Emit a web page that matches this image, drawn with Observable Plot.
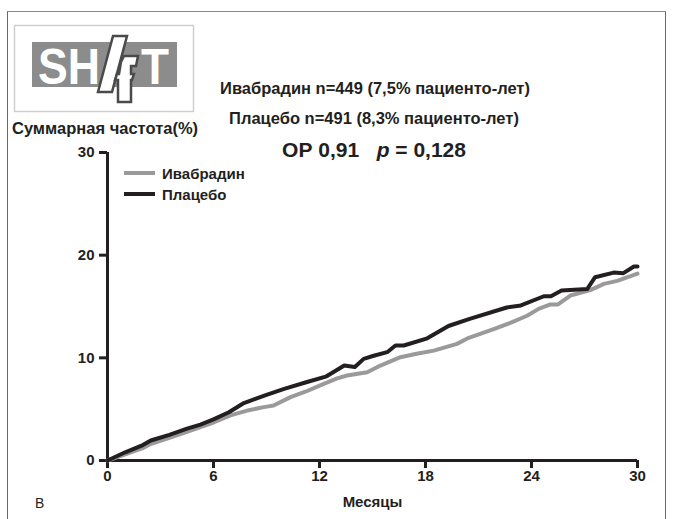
<!DOCTYPE html>
<html>
<head>
<meta charset="utf-8">
<script src="https://cdn.jsdelivr.net/npm/d3@7"></script>
<script src="https://cdn.jsdelivr.net/npm/@observablehq/plot@0.6"></script>
<style>
  html, body { margin: 0; padding: 0; background: #fff; }
  #wrap { position: relative; width: 674px; height: 519px; overflow: hidden; font-family: "Liberation Sans", Arial, sans-serif; color: #231f20; }
  #chart { position: absolute; left: 0; top: 0; }
  .ov { position: absolute; white-space: nowrap; font-weight: bold; }
  .ctr { transform: translate(-50%, -50%); }
  #frame { position: absolute; left: 7px; top: 11px; width: 657px; height: 530px; border: 1.5px solid #6a6a6a; border-top-color: #8a8a8a; }
  .lg { position: absolute; height: 4px; width: 31px; }
</style>
</head>
<body>
<div id="wrap">
  <div id="frame"></div>
  <div id="chart"></div>
  <svg id="logo" style="position:absolute;left:0;top:0" width="200" height="120">
    <rect x="14.5" y="25.5" width="179" height="86" fill="none" stroke="#cfcfcf" stroke-width="1.5"/>
    <rect x="32" y="42" width="145" height="45" fill="#8c8c8c"/>
    <text x="38" y="84" font-family="Liberation Sans, Arial" font-weight="bold" font-size="50" fill="#fff" textLength="62" lengthAdjust="spacingAndGlyphs">SH</text>
    <text x="141" y="84" font-family="Liberation Sans, Arial" font-weight="bold" font-size="50" fill="#fff" textLength="28" lengthAdjust="spacingAndGlyphs">T</text>
    <polygon points="113,36 127,36 112,92 98,92" fill="#fff" stroke="#4a4a4a" stroke-width="2.5"/>
    <path d="M124,56 L138,56 L136,66 L131,66 L131,74 L134,74 L132,80 L131,80 L131,102 L118,102 L118,80 L115,80 L117,74 L119,74 L121,62 Z" fill="#fff" stroke="#4a4a4a" stroke-width="2.5"/>
  </svg>
  <div class="ov" style="left:12px;top:119px;font-size:16.5px;">Суммарная частота(%)</div>
  <div class="ov ctr" style="left:375px;top:88px;font-size:16.5px;">Ивабрадин n=449 (7,5% пациенто-лет)</div>
  <div class="ov ctr" style="left:374px;top:118px;font-size:16.5px;">Плацебо n=491 (8,3% пациенто-лет)</div>
  <div class="ov ctr" style="left:374px;top:150px;font-size:21px;">ОР 0,91&nbsp;&nbsp;&nbsp;<i>p</i> = 0,128</div>
  <div class="lg" style="left:124px;top:171px;background:#9a9a9a;"></div>
  <div class="ov" style="left:162px;top:165px;font-size:15px;">Ивабрадин</div>
  <div class="lg" style="left:124px;top:192px;background:#231f20;"></div>
  <div class="ov" style="left:162px;top:186px;font-size:15px;">Плацебо</div>
  <div class="ov" style="left:35px;top:495px;font-size:14px;font-weight:normal;">B</div>
</div>
<script>
// Months axis ticks and cumulative-incidence axis ticks
const xTicks = [0, 6, 12, 18, 24, 30];
const yTicks = [0, 10, 20, 30];

// Ivabradine (gray) — months
const ivaMonths = [0, 1, 2, 2.43, 3.5, 4.5, 5.26, 6, 6.96, 8, 8.85, 9.4, 10.36, 11.2, 12.24, 13.0, 13.56, 14.7, 15.45, 16.58, 17.5, 18.47, 19.78, 20.45, 21.86, 22.8, 23.75, 24.4, 25.07, 25.5, 26.2, 27.33, 28.1, 28.85, 30];
// Ivabradine cumulative incidence, %
const ivaValues = [0, 0.6, 1.2, 1.6, 2.2, 2.8, 3.25, 3.7, 4.4, 4.9, 5.2, 5.35, 6.17, 6.7, 7.47, 8.0, 8.28, 8.6, 9.25, 10.06, 10.4, 10.7, 11.36, 11.95, 12.8, 13.4, 14.1, 14.77, 15.2, 15.2, 16.07, 16.6, 17.2, 17.5, 18.2];

// Placebo (black) — months
const plaMonths = [0, 1, 2, 2.45, 3.5, 4.5, 5.26, 6, 6.87, 7.72, 9, 10, 11.2, 12.4, 13.4, 14.0, 14.5, 15.07, 15.83, 16.3, 16.77, 18.1, 19.3, 20.5, 22.6, 23.4, 24.7, 25.1, 25.7, 27.15, 27.6, 28.65, 29.2, 29.8, 30];
// Placebo cumulative incidence, %
const plaValues = [0, 0.8, 1.5, 1.95, 2.5, 3.1, 3.5, 4.0, 4.7, 5.6, 6.4, 6.98, 7.6, 8.2, 9.25, 9.1, 9.9, 10.2, 10.55, 11.2, 11.2, 11.9, 13.1, 13.8, 14.9, 15.1, 16.0, 16.0, 16.55, 16.7, 17.85, 18.3, 18.25, 18.9, 18.9];

const iva = ivaMonths.map((m, i) => ({m, v: ivaValues[i]}));
const pla = plaMonths.map((m, i) => ({m, v: plaValues[i]}));

const chart = Plot.plot({
  width: 674,
  height: 519,
  marginLeft: 107,
  marginRight: 37,
  marginTop: 152,
  marginBottom: 59,
  style: {fontFamily: "Liberation Sans, Arial, sans-serif", fontSize: "15px", fontWeight: "bold", color: "#231f20", background: "transparent"},
  x: {domain: [0, 30]},
  y: {domain: [0, 30]},
  marks: [
    Plot.axisX({ticks: xTicks, tickSize: 8, tickPadding: 2, strokeWidth: 3, stroke: "#231f20", label: "Месяцы", labelAnchor: "center", labelArrow: "none", labelOffset: 46}),
    Plot.axisY({ticks: yTicks, tickSize: 8, tickPadding: 5, strokeWidth: 3, stroke: "#231f20", label: null}),
    Plot.ruleX([0], {stroke: "#231f20", strokeWidth: 3}),
    Plot.ruleY([0], {stroke: "#231f20", strokeWidth: 3}),
    Plot.line(iva, {x: "m", y: "v", stroke: "#9a9a9a", strokeWidth: 4}),
    Plot.line(pla, {x: "m", y: "v", stroke: "#231f20", strokeWidth: 4})
  ]
});
document.getElementById("chart").appendChild(chart);
</script>
</body>
</html>
